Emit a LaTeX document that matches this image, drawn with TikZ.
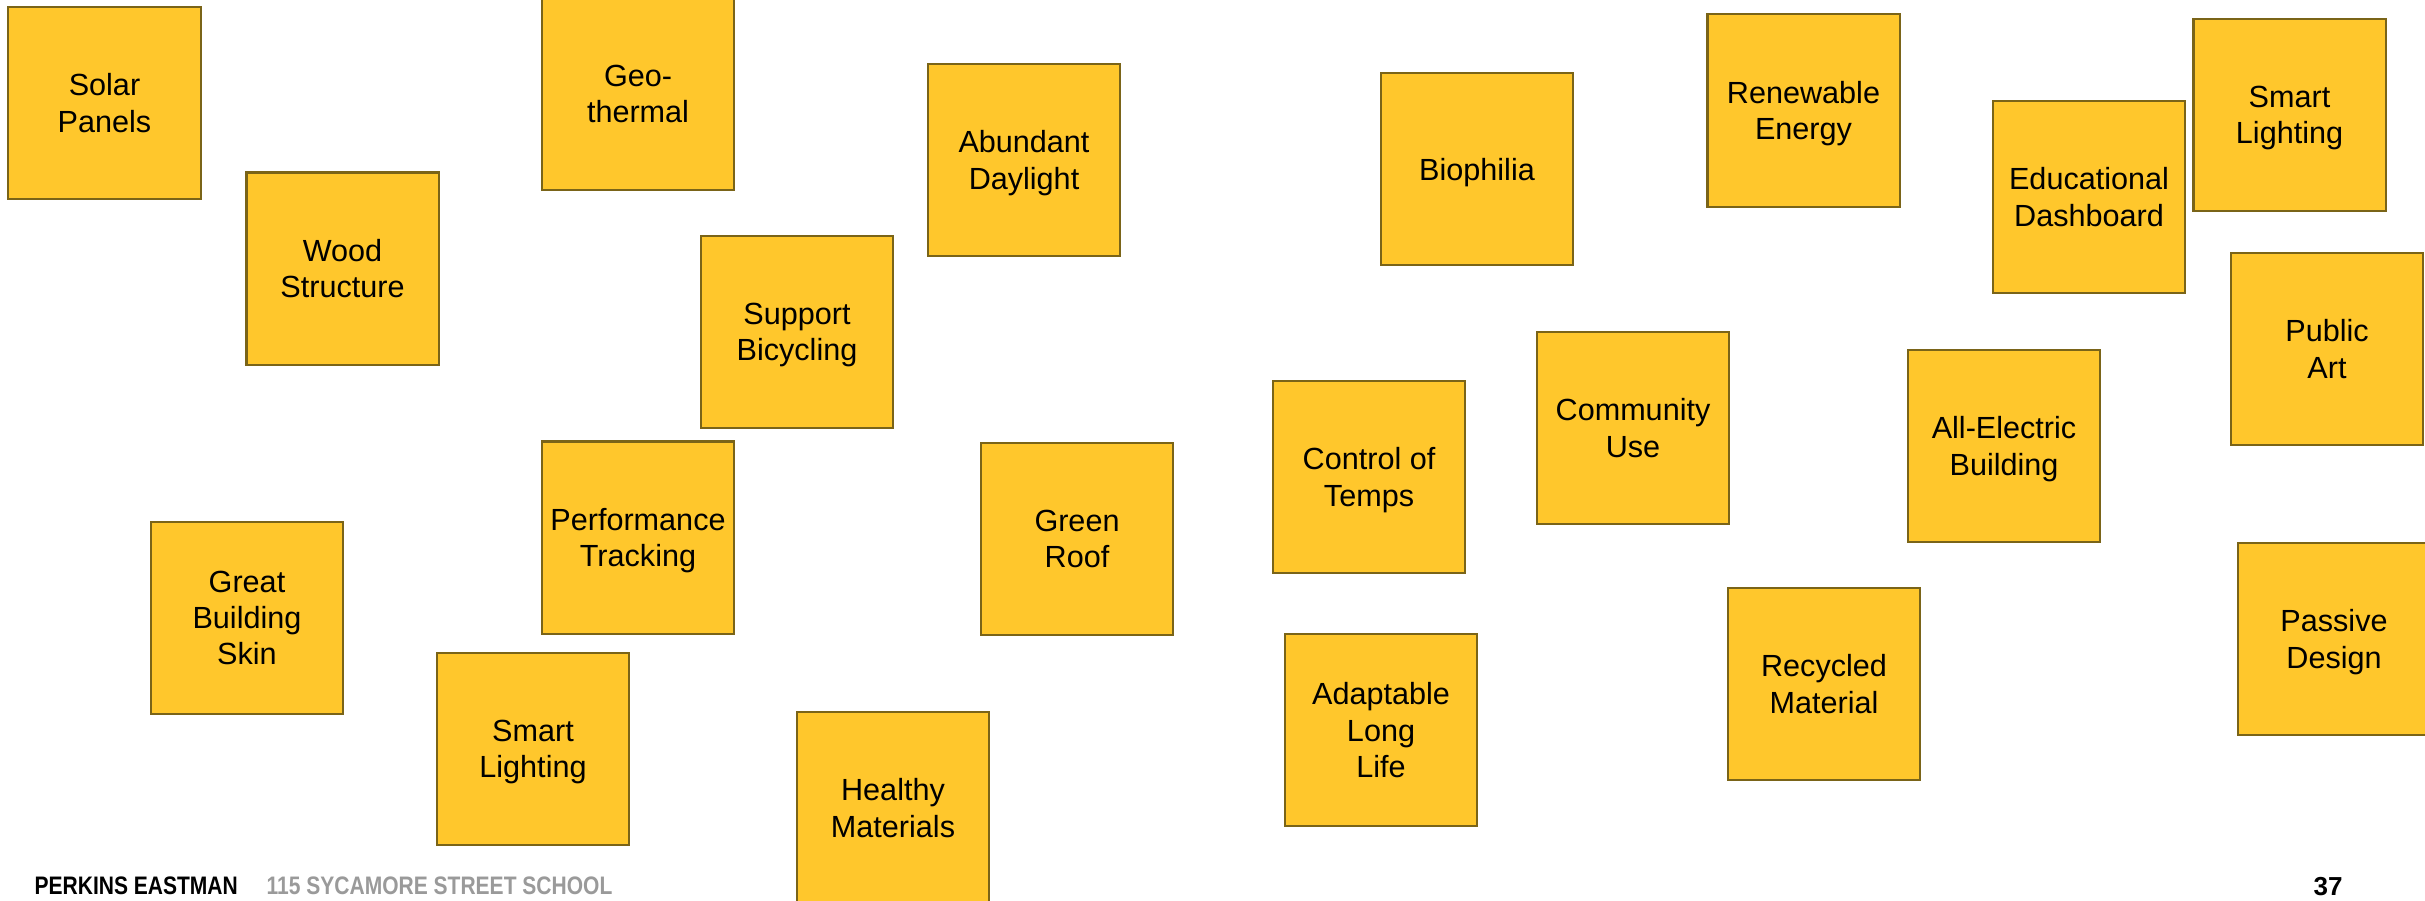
\documentclass[tikz,border=0pt]{standalone}
\usepackage{fontspec}
\setmainfont{Liberation Sans}
\newfontfamily\condfont{Liberation Sans}[FakeStretch=0.83]
\definecolor{notefill}{HTML}{FFC72C}
\definecolor{noteedge}{HTML}{7A6418}
\definecolor{footgray}{HTML}{9A9A9A}
\tikzset{
  note/.style={draw=noteedge, fill=notefill, line width=0.6pt,
    minimum width=1.92cm, minimum height=1.92cm, inner sep=0pt,
    align=center, text depth=0pt, font=\fontsize{8.7pt}{10.3pt}\selectfont},
  footer/.style={anchor=base west, inner sep=0pt, font=\condfont\bfseries\fontsize{7.2pt}{8pt}\selectfont}
}
\begin{document}
\begin{tikzpicture}[x=0.01cm, y=-0.01cm]
    \useasboundingbox (0,0) rectangle (2425,900);
    % sticky notes, left group
    \node[note] (solar) at (104.5,103) {Solar\\Panels};
    \node[note] (wood) at (342.5,268.5) {Wood\\Structure};
    \node[note] (geo) at (638,94) {Geo-\\thermal};
    \node[note] (daylight) at (1024,160) {Abundant\\Daylight};
    \node[note] (bicycling) at (797,332) {Support\\Bicycling};
    \node[note] (tracking) at (638,537.5) {Performance\\Tracking};
    \node[note] (skin) at (247,618) {Great\\Building\\Skin};
    \node[note] (lightleft) at (533,749) {Smart\\Lighting};
    \node[note] (healthy) at (893,808) {Healthy\\Materials};
    \node[note] (roof) at (1077,539) {Green\\Roof};
    % sticky notes, right group
    \node[note] (biophilia) at (1477,169) {Biophilia};
    \node[note] (temps) at (1369,477) {Control of\\Temps};
    \node[note] (community) at (1633,428) {Community\\Use};
    \node[note] (adaptable) at (1381,730) {Adaptable\\Long\\Life};
    \node[note] (renewable) at (1803.5,110.5) {Renewable\\Energy};
    \node[note] (recycled) at (1824,684) {Recycled\\Material};
    \node[note] (electric) at (2004,446) {All-Electric\\Building};
    \node[note] (dashboard) at (2089,197) {Educational\\Dashboard};
    \node[note] (lightright) at (2289.5,115) {Smart\\Lighting};
    \node[note] (art) at (2327,349) {Public\\Art};
    \node[note] (passive) at (2334,639) {Passive\\Design};
    % footer
    \node[footer] (firm) at (34,894) {PERKINS EASTMAN};
    \node[footer, text=footgray] (project) at (266,894) {115 SYCAMORE STREET SCHOOL};
    \node[anchor=base west, inner sep=0pt, font=\bfseries\fontsize{7.4pt}{8pt}\selectfont] (page) at (2313,895) {37};
\end{tikzpicture}
\end{document}
